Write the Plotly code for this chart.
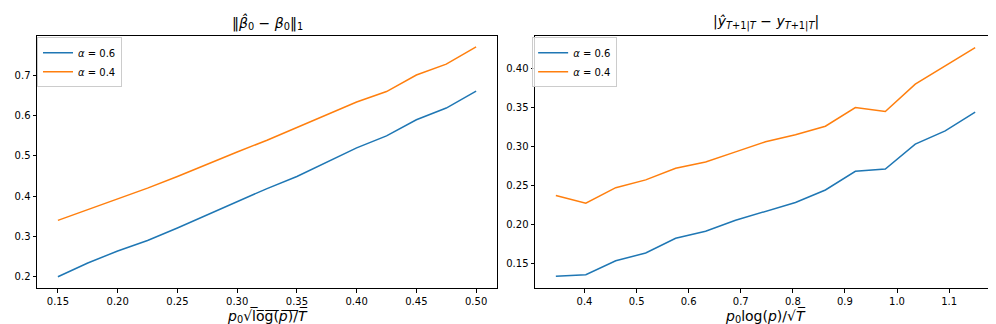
import plotly.graph_objects as go
from plotly.subplots import make_subplots

# left panel: parameter error vs p0*sqrt(log(p)/T)
x_left = [0.15, 0.175, 0.2, 0.225, 0.25, 0.275, 0.3, 0.325, 0.35, 0.375, 0.4, 0.425, 0.45, 0.475, 0.5]
beta_a06 = [0.200, 0.234, 0.264, 0.290, 0.321, 0.354, 0.388, 0.419, 0.449, 0.484, 0.520, 0.550, 0.590, 0.619, 0.661]
beta_a04 = [0.340, 0.367, 0.394, 0.420, 0.449, 0.480, 0.510, 0.539, 0.570, 0.602, 0.634, 0.660, 0.701, 0.728, 0.771]

# right panel: forecast error vs p0*log(p)/sqrt(T)
x_right = [0.345, 0.4025, 0.46, 0.5175, 0.575, 0.6325, 0.69, 0.7475, 0.805, 0.8625, 0.92, 0.9775, 1.035, 1.0925, 1.15]
fc_a06 = [0.133, 0.135, 0.153, 0.163, 0.182, 0.191, 0.205, 0.217, 0.228, 0.244, 0.268, 0.271, 0.303, 0.320, 0.344]
fc_a04 = [0.237, 0.227, 0.247, 0.257, 0.272, 0.280, 0.293, 0.306, 0.315, 0.326, 0.350, 0.345, 0.380, 0.404, 0.427]

names = ["<i>α</i> = 0.6", "<i>α</i> = 0.4"]
colors = ["#1f77b4", "#ff7f0e"]

fig = make_subplots(rows=1, cols=2, horizontal_spacing=0.04)

for ys, name, c in zip([beta_a06, beta_a04], names, colors):
    fig.add_trace(go.Scatter(x=x_left, y=ys, mode="lines", name=name,
                             line=dict(color=c, width=1.5), legend="legend"), row=1, col=1)
for ys, name, c in zip([fc_a06, fc_a04], names, colors):
    fig.add_trace(go.Scatter(x=x_right, y=ys, mode="lines", name=name,
                             line=dict(color=c, width=1.5), legend="legend2"), row=1, col=2)

axis_style = dict(showgrid=False, zeroline=False, showline=True, linecolor="black",
                  linewidth=1, mirror=True, ticks="outside", ticklen=3.5, tickcolor="black",
                  tickfont=dict(size=10, color="black"))

fig.update_xaxes(**axis_style)
fig.update_yaxes(**axis_style)

L_DOM = [0, 0.4797]
R_DOM = [0.5193, 1]

fig.update_xaxes(domain=L_DOM, range=[0.1325, 0.5175], dtick=0.05, tickformat=".2f", row=1, col=1)
fig.update_yaxes(range=[0.172, 0.798], dtick=0.1, tickformat=".1f", row=1, col=1)
fig.update_xaxes(domain=R_DOM, range=[0.305, 1.19], dtick=0.1, tickformat=".1f", row=1, col=2)
fig.update_yaxes(range=[0.118, 0.442], dtick=0.05, tickformat=".2f", row=1, col=2)

legend_style = dict(bgcolor="rgba(255,255,255,0.8)", bordercolor="#cccccc", borderwidth=1,
                    font=dict(size=10, color="black"), xanchor="left", yanchor="top",
                    tracegroupgap=0, itemwidth=30)


def label(text, x, y, yanchor, yshift):
    return dict(text=text, x=x, y=y, xref="paper", yref="paper", xanchor="center",
                yanchor=yanchor, showarrow=False, font=dict(size=14), yshift=yshift)


lc = sum(L_DOM) / 2
rc = sum(R_DOM) / 2

fig.update_layout(
    width=996, height=324,
    margin=dict(l=28, r=7, t=28, b=44),
    paper_bgcolor="white", plot_bgcolor="white",
    font=dict(family="DejaVu Sans", color="black"),
    legend=dict(x=0.0, y=0.995, **legend_style),
    legend2=dict(x=R_DOM[0] - 0.003, y=0.995, **legend_style),
    annotations=[
        label("‖<i>β̂</i><sub>0</sub> − <i>β</i><sub>0</sub>‖<sub>1</sub>", lc, 1.0, "bottom", 2),
        label("|<i>ŷ</i><sub><i>T</i>+1|<i>T</i></sub> − <i>y</i><sub><i>T</i>+1|<i>T</i></sub>|", rc, 1.0, "bottom", 2),
        label("<i>p</i><sub>0</sub>√l̅o̅g̅(̅<i>p̅</i>)̅/̅<i>T̅</i>", lc, 0, "top", -17),
        label("<i>p</i><sub>0</sub>log(<i>p</i>)/√<i>T̅</i>", rc, 0, "top", -17),
    ],
)

fig.write_html("out.html")
